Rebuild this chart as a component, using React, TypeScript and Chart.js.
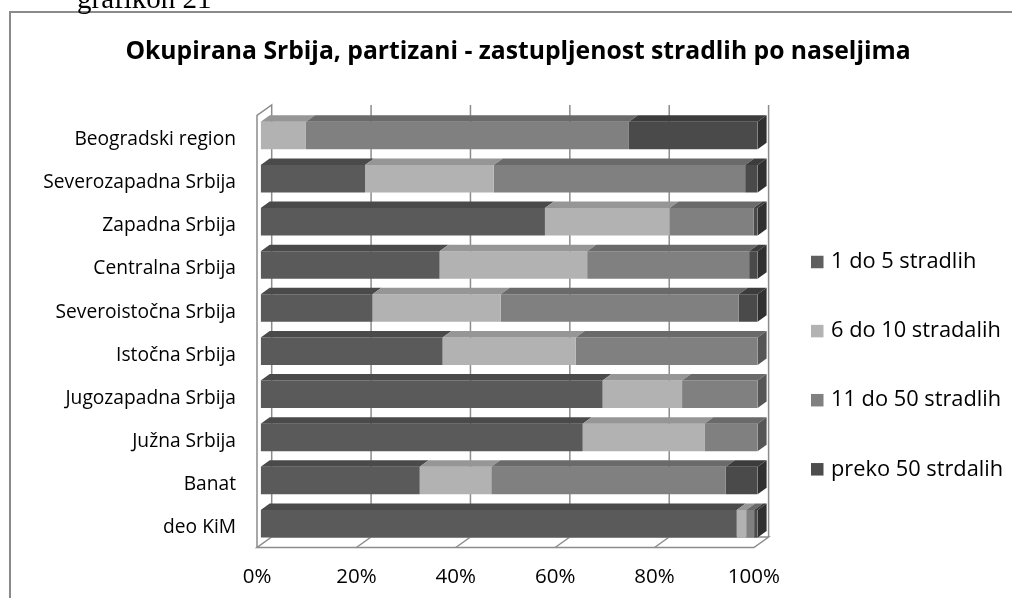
import React, { useEffect, useRef } from "react";
import { Chart, registerables } from "chart.js";

Chart.register(...registerables);

// ---------- data ----------
const categories = [
  "Beogradski region",
  "Severozapadna Srbija",
  "Zapadna Srbija",
  "Centralna Srbija",
  "Severoistočna Srbija",
  "Istočna Srbija",
  "Jugozapadna Srbija",
  "Južna Srbija",
  "Banat",
  "deo KiM",
];
const seriesNames = ["1 do 5 stradlih", "6 do 10 stradalih", "11 do 50 stradlih", "preko 50 strdalih"];
const s1to5 = [0, 21.0, 57.2, 36.0, 22.5, 36.6, 68.8, 64.8, 32.0, 95.8];
const s6to10 = [9.1, 25.9, 25.1, 29.7, 25.8, 26.8, 16.0, 24.5, 14.4, 1.9];
const s11to50 = [65.0, 50.6, 16.9, 32.6, 47.9, 36.6, 15.2, 10.7, 47.2, 1.6];
const sOver50 = [25.9, 2.5, 0.8, 1.7, 3.8, 0, 0, 0, 6.4, 0.7];
const xTickValues = [0, 20, 40, 60, 80, 100];

const titleText = "Okupirana Srbija, partizani - zastupljenost stradlih po naseljima";
const captionText = "grafikon 21";

// ---------- style ----------
const FONT = "'Open Sans', sans-serif";
const frontColors = ["#5a5a5a", "#b2b2b2", "#808080", "#4a4a4a"];
const topColors = ["#4a4a4a", "#969696", "#6a6a6a", "#3c3c3c"];
const sideColors = ["#3e3e3e", "#7c7c7c", "#565656", "#303030"];
const legendColors = ["#5f5f5f", "#b3b3b3", "#808080", "#4d4d4d"];
const LINE = "#8c8c8c";

const BAR_DX = 9;
const BAR_DY = -6.5;
const WALL_DX = 14.7;
const WALL_DY = -10.5;
const FLOOR_SHIFT = -3.7;

const threeD = {
  id: "threeD",
  beforeDraw(chart: any) {
    const ctx = chart.ctx;
    ctx.save();
    ctx.strokeStyle = "#8a8a8a";
    ctx.lineWidth = 2;
    ctx.beginPath();
    ctx.moveTo(10, 600);
    ctx.lineTo(10, 12);
    ctx.lineTo(1014, 12);
    ctx.stroke();
    ctx.fillStyle = "#000";
    ctx.font = "29px 'Liberation Serif', serif";
    ctx.textAlign = "left";
    ctx.textBaseline = "alphabetic";
    ctx.fillText(captionText, 77, 8);
    ctx.restore();
  },
  beforeDatasetsDraw(chart: any) {
    const { ctx, chartArea, scales } = chart;
    const xs = scales.x;
    const fx = (v: number) => xs.getPixelForValue(v) + FLOOR_SHIFT;
    const fy = chartArea.bottom + 2.2;
    const by = fy + WALL_DY;
    const topY = chartArea.top - 9;
    ctx.save();
    ctx.strokeStyle = LINE;
    ctx.lineWidth = 1.5;
    // left wall
    ctx.beginPath();
    ctx.moveTo(fx(0), fy);
    ctx.lineTo(fx(0), topY - WALL_DY);
    ctx.lineTo(fx(0) + WALL_DX, topY);
    ctx.lineTo(fx(0) + WALL_DX, by);
    ctx.stroke();
    // back wall gridlines
    xTickValues.forEach((v) => {
      if (v === 0) return;
      const x = fx(v) + WALL_DX;
      ctx.beginPath();
      ctx.moveTo(x, topY);
      ctx.lineTo(x, by);
      ctx.stroke();
    });
    // floor
    ctx.fillStyle = "#ffffff";
    ctx.beginPath();
    ctx.moveTo(fx(0), fy);
    ctx.lineTo(fx(100), fy);
    ctx.lineTo(fx(100) + WALL_DX, by);
    ctx.lineTo(fx(0) + WALL_DX, by);
    ctx.closePath();
    ctx.fill();
    ctx.stroke();
    xTickValues.forEach((v) => {
      if (v === 0 || v === 100) return;
      ctx.beginPath();
      ctx.moveTo(fx(v), fy);
      ctx.lineTo(fx(v) + WALL_DX, by);
      ctx.stroke();
    });
    ctx.restore();
  },
  afterDatasetsDraw(chart: any) {
    const ctx = chart.ctx;
    const metas = chart.getSortedVisibleDatasetMetas();
    ctx.save();
    for (let i = 0; i < categories.length; i++) {
      let last: any = null;
      metas.forEach((meta: any) => {
        const val = chart.data.datasets[meta.index].data[i];
        if (!val) return;
        const el = meta.data[i];
        const p = el.getProps(["x", "y", "base", "height"], true);
        const top = p.y - p.height / 2;
        const left = Math.min(p.x, p.base);
        const right = Math.max(p.x, p.base);
        ctx.fillStyle = topColors[meta.index];
        ctx.beginPath();
        ctx.moveTo(left, top);
        ctx.lineTo(right, top);
        ctx.lineTo(right + BAR_DX, top + BAR_DY);
        ctx.lineTo(left + BAR_DX, top + BAR_DY);
        ctx.closePath();
        ctx.fill();
        last = { right, top, height: p.height, idx: meta.index };
      });
      if (last) {
        ctx.fillStyle = sideColors[last.idx];
        ctx.beginPath();
        ctx.moveTo(last.right, last.top);
        ctx.lineTo(last.right + BAR_DX, last.top + BAR_DY);
        ctx.lineTo(last.right + BAR_DX, last.top + last.height + BAR_DY);
        ctx.lineTo(last.right, last.top + last.height);
        ctx.closePath();
        ctx.fill();
      }
    }
    ctx.restore();
  },
  afterDraw(chart: any) {
    const ctx = chart.ctx;
    ctx.save();
    ctx.font = `21.8px ${FONT}`;
    ctx.textAlign = "left";
    ctx.textBaseline = "middle";
    chart.data.datasets.forEach((ds: any, k: number) => {
      const cy = 262 + k * 69.1;
      ctx.fillStyle = legendColors[k];
      ctx.fillRect(811, cy - 6.25, 12.5, 12.5);
      ctx.fillStyle = "#000";
      ctx.fillText(ds.label, 831, cy);
    });
    ctx.restore();
  },
};

export default function App() {
  const ref = useRef<HTMLCanvasElement | null>(null);
  useEffect(() => {
    if (!ref.current) return;
    const seriesData = [s1to5, s6to10, s11to50, sOver50];
    const chart = new Chart(ref.current, {
      type: "bar",
      data: {
        labels: categories,
        datasets: seriesNames.map((name, k) => ({
          label: name,
          data: seriesData[k],
          backgroundColor: frontColors[k],
          borderWidth: 0,
          barPercentage: 0.638,
          categoryPercentage: 1,
        })),
      },
      options: {
        indexAxis: "y",
        responsive: false,
        devicePixelRatio: 1,
        animation: false,
        layout: { padding: { left: 24, top: 0, right: 0, bottom: 0 } },
        plugins: {
          legend: { display: false },
          tooltip: { enabled: false },
          title: {
            display: true,
            text: titleText,
            color: "#000",
            font: { family: FONT, size: 24.7, weight: "bold" },
            padding: { top: 37.2, bottom: 47.1 },
          },
        },
        scales: {
          x: {
            stacked: true,
            min: 0,
            max: 100,
            afterBuildTicks: (scale: any) => {
              scale.ticks = xTickValues.map((v) => ({ value: v }));
            },
            afterFit: (scale: any) => {
              scale.height = 52.7;
            },
            grid: { display: false, drawTicks: false },
            border: { display: false },
            ticks: {
              color: "#000",
              font: { family: FONT, size: 20.5 },
              padding: 19.4,
              labelOffset: FLOOR_SHIFT,
              maxRotation: 0,
              callback: (v: any) => `${v}%`,
            },
          },
          y: {
            stacked: true,
            afterFit: (scale: any) => {
              scale.width = 236.7;
            },
            grid: { display: false, drawTicks: false },
            border: { display: false },
            ticks: {
              color: "#000",
              font: { family: FONT, size: 19.2 },
              padding: 24.7,
              labelOffset: 4,
            },
          },
          legendSpace: {
            type: "linear",
            axis: "y",
            position: "right",
            display: true,
            afterFit: (scale: any) => {
              scale.width = 254.4;
            },
            grid: { display: false, drawTicks: false },
            border: { display: false },
            ticks: { display: false },
          },
        },
      },
      plugins: [threeD],
    });
    return () => chart.destroy();
  }, []);
  return (
    <div style={{ position: "absolute", left: 0, top: 0, width: 1012, height: 598, background: "#fff" }}>
      <canvas ref={ref} width={1012} height={598} />
    </div>
  );
}
